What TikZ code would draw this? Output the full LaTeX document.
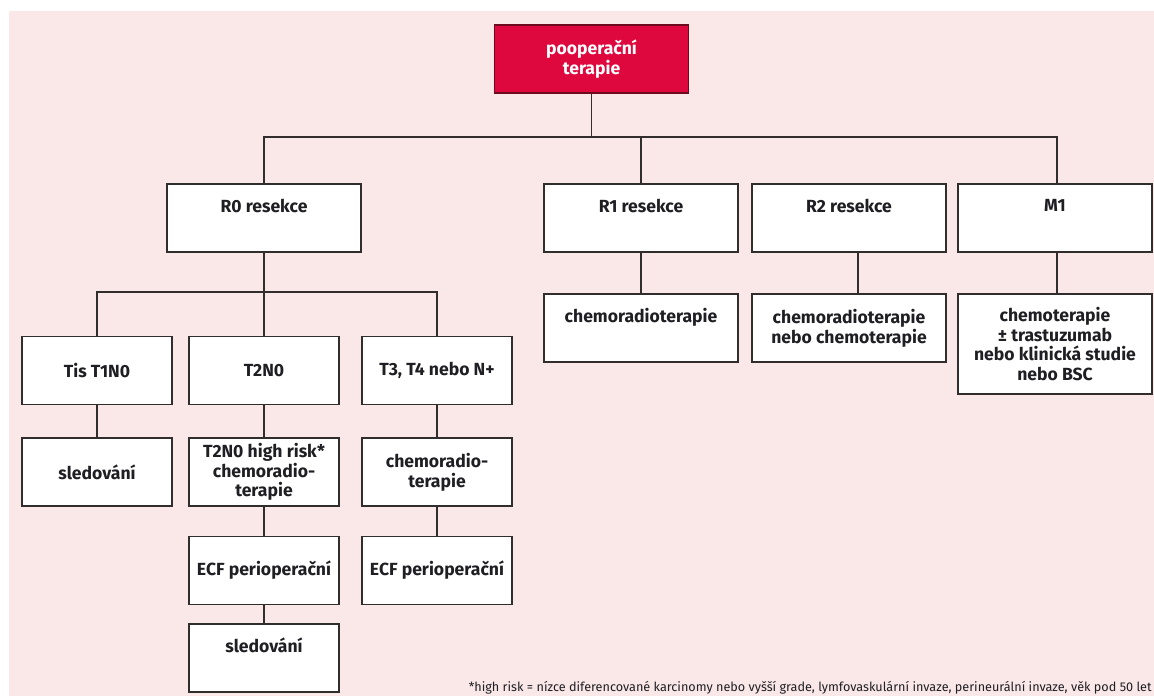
\documentclass[tikz,border=0pt]{standalone}
\usepackage{fontspec}
\setmainfont{Fira Sans}
\usepackage{xcolor}
\usepackage{tikz}
\usetikzlibrary{calc,positioning}
\definecolor{bgPink}{RGB}{250,231,232}
\definecolor{headRed}{RGB}{222,8,62}
\definecolor{headRedDark}{RGB}{110,10,30}
\definecolor{lineGray}{RGB}{50,45,45}
\definecolor{textDark}{RGB}{30,30,35}

\tikzset{
  box/.style={draw=lineGray, fill=white, line width=0.8pt, align=center,
    minimum width=3.88cm, minimum height=1.36cm, inner sep=2pt,
    text=textDark, font=\fontsize{10}{11.2}\selectfont\bfseries},
  smallbox/.style={box, minimum width=3cm},
  raised/.style={text depth=0.5cm},
  link/.style={draw=lineGray, line width=0.8pt}
}

\begin{document}
\begin{tikzpicture}[x=0.02cm, y=-0.02cm]
\useasboundingbox (0,0) rectangle (1154,696);
\fill[bgPink] (9,11) rectangle (1154,696);

% top level
\node[box, fill=headRed, draw=headRedDark, text=white] (root) at (591.5,59) {pooperační\\terapie};
\node[box, raised] (r0) at (264,218) {R0 resekce};
\node[box, raised] (r1) at (641,218) {R1 resekce};
\node[box, raised] (r2) at (849,218) {R2 resekce};
\node[box, raised] (m1) at (1055,218) {M1};

% right branches
\node[box, raised] (r1c) at (641,328) {chemoradioterapie};
\node[box] (r2c) at (849,328) {chemoradioterapie\\nebo chemoterapie};
\node[box, minimum height=2cm] (m1c) at (1055,344) {chemoterapie\\± trastuzumab\\nebo klinická studie\\nebo BSC};

% R0 branch
\node[smallbox] (tis) at (97,370.5) {Tis T1N0};
\node[smallbox] (t2) at (264,370.5) {T2N0};
\node[smallbox] (t3) at (437,370.5) {T3, T4 nebo N+};
\node[smallbox] (sled1) at (97,472) {sledování};
\node[smallbox] (t2hr) at (264,472) {T2N0 high risk*\\chemoradio-\\terapie};
\node[smallbox] (t3c) at (437,472) {chemoradio-\\terapie};
\node[smallbox] (ecf1) at (264,570.5) {ECF perioperační};
\node[smallbox] (ecf2) at (437,570.5) {ECF perioperační};
\node[smallbox, raised] (sled2) at (264,658) {sledování};

% connectors
\coordinate (bus1) at (591.5,137);
\coordinate (bus2) at (264,292);
\draw[link] (root) -- (bus1);
\draw[link] (r0.north) |- (bus1) -| ($(m1.north)+(2,0)$);
\draw[link] (r1.north) -- (r1.north |- bus1);
\draw[link] ($(r2.north)+(9,0)$) -- ($(r2.north)+(9,0)$ |- bus1);
\draw[link] ($(r2.south)+(9,0)$) -- ($(r2c.north)+(9,0)$);
\draw[link] ($(m1.south)+(2,0)$) -- ($(m1c.north)+(2,0)$);
\draw[link] (tis.north) |- (bus2) -| (t3.north);
\foreach \a/\b in {r0/t2, r1/r1c, tis/sled1, t2/t2hr, t2hr/ecf1, ecf1/sled2, t3/t3c, t3c/ecf2}
  \draw[link] (\a) -- (\b);

\node[anchor=east, text=textDark, font=\fontsize{7.2}{8}\selectfont, inner sep=0pt] (note) at (1152,688)
  {*high risk = nízce diferencované karcinomy nebo vyšší grade, lymfovaskulární invaze, perineurální invaze, věk pod 50 let};
\end{tikzpicture}
\end{document}
